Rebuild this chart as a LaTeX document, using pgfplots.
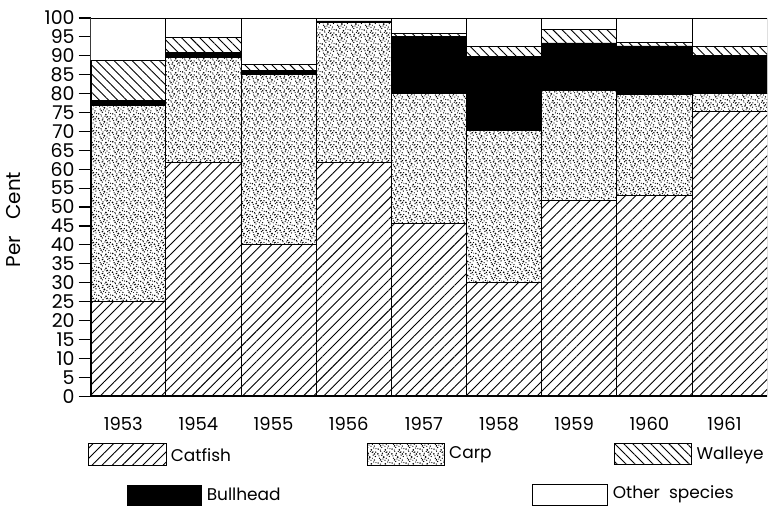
\documentclass[border=0pt]{standalone}
\usepackage{fontspec}
\setmainfont{Poppins}
\usepackage{pgfplots}
\pgfplotsset{compat=1.18}
\usetikzlibrary{patterns,patterns.meta}
\pgfdeclarepatternformonly{stipple}{\pgfqpoint{-1pt}{-1pt}}{\pgfqpoint{8pt}{8pt}}{\pgfqpoint{7pt}{7pt}}{%
  \pgfpathcircle{\pgfqpoint{0.5pt}{0.7pt}}{0.4pt}
  \pgfpathcircle{\pgfqpoint{2.3pt}{1.5pt}}{0.35pt}
  \pgfpathcircle{\pgfqpoint{4.1pt}{0.3pt}}{0.45pt}
  \pgfpathcircle{\pgfqpoint{5.6pt}{2.2pt}}{0.35pt}
  \pgfpathcircle{\pgfqpoint{1.2pt}{3.1pt}}{0.35pt}
  \pgfpathcircle{\pgfqpoint{3.3pt}{3.7pt}}{0.5pt}
  \pgfpathcircle{\pgfqpoint{5.0pt}{4.7pt}}{0.35pt}
  \pgfpathcircle{\pgfqpoint{0.4pt}{5.3pt}}{0.45pt}
  \pgfpathcircle{\pgfqpoint{2.6pt}{5.6pt}}{0.35pt}
  \pgfpathcircle{\pgfqpoint{3.9pt}{2.1pt}}{0.3pt}
  \pgfpathcircle{\pgfqpoint{6.3pt}{6.2pt}}{0.35pt}
  \pgfpathcircle{\pgfqpoint{6.4pt}{0.9pt}}{0.3pt}
  \pgfpathcircle{\pgfqpoint{1.8pt}{6.6pt}}{0.3pt}
  \pgfpathcircle{\pgfqpoint{2.9pt}{2.7pt}}{0.3pt}
  \pgfpathcircle{\pgfqpoint{4.6pt}{3.1pt}}{0.3pt}
  \pgfpathcircle{\pgfqpoint{0.9pt}{4.3pt}}{0.3pt}
  \pgfpathcircle{\pgfqpoint{6.1pt}{4.0pt}}{0.35pt}
  \pgfpathcircle{\pgfqpoint{3.6pt}{6.5pt}}{0.3pt}
  \pgfpathcircle{\pgfqpoint{5.3pt}{1.2pt}}{0.3pt}
  \pgfpathcircle{\pgfqpoint{1.6pt}{0.2pt}}{0.3pt}
  \pgfusepath{fill}
  \pgfpathmoveto{\pgfqpoint{4.3pt}{5.9pt}}\pgfpathlineto{\pgfqpoint{5.1pt}{6.4pt}}
  \pgfpathmoveto{\pgfqpoint{1.5pt}{2.0pt}}\pgfpathlineto{\pgfqpoint{1.9pt}{2.6pt}}
  \pgfpathmoveto{\pgfqpoint{5.5pt}{5.5pt}}\pgfpathlineto{\pgfqpoint{5.9pt}{5.0pt}}
  \pgfpathmoveto{\pgfqpoint{2.0pt}{4.5pt}}\pgfpathlineto{\pgfqpoint{2.7pt}{4.8pt}}
  \pgfsetlinewidth{0.5pt}
  \pgfusepath{stroke}
}
\pgfplotstableread{
x cat carp bull wall other
0 25.0 51.8 1.3 10.6 11.3
1 61.7 27.9 1.3 3.9 5.2
2 40.0 45.0 1.1 1.6 12.3
3 61.8 37.1 0.3 0.0 0.8
4 45.6 34.4 15.0 0.8 4.2
5 30.0 40.3 19.5 2.7 7.5
6 51.8 29.1 12.5 3.5 3.1
7 53.2 26.6 12.8 0.9 6.5
8 75.2 4.8 10.0 2.4 7.6
}\datatable
\tikzset{
  catpat/.style={pattern={Lines[angle=45,distance=3.6pt,line width=0.45pt]}},
  carppat/.style={pattern=stipple},
  wallpat/.style={pattern={Lines[angle=-45,distance=3.2pt,line width=0.45pt]}},
}
\begin{document}
\begin{tikzpicture}
\begin{scope}[shift={(-45pt,198.5pt)},x=0.5pt,y=-0.5pt]
\path[use as bounding box] (0,0) rectangle (768,506);
\end{scope}
\begin{axis}[
  scale only axis,
  width=339pt, height=189.5pt,
  ybar stacked, bar width=1,
  xmin=-0.5, xmax=8.5, ymin=0, ymax=100,
  axis x line*=bottom, axis y line*=left,
  axis line style={-, line width=0.9pt},
  xtick={0,...,8},
  xticklabels={1953,1954,1955,1956,1957,1958,1959,1960,1961},
  x tick style={draw=none},
  xticklabel style={font=\fontsize{9}{10}\selectfont, xshift=-2.5pt, yshift=-1pt},
  ytick={0,5,...,100},
  y tick style={line width=0.6pt,black},
  tick align=outside, major tick length=6pt,
  yticklabel style={font=\fontsize{9.5}{10}\selectfont, xshift=1.5pt},
  /pgf/number format/assume math mode=true,
  ylabel={Per\ \ \ Cent},
  ylabel style={at={(axis description cs:-0.1136,0.467)}, anchor=center, font=\fontsize{10}{11}\selectfont},
  every axis plot/.append style={draw=black, line width=0.4pt},
]
\addplot[catpat, draw=black] table[x=x,y=cat]{\datatable};
\addplot[carppat, draw=black] table[x=x,y=carp]{\datatable};
\addplot[fill=black, draw=black] table[x=x,y=bull]{\datatable};
\addplot[wallpat, draw=black] table[x=x,y=wall]{\datatable};
\addplot[fill=white, draw=black] table[x=x,y=other]{\datatable};
\end{axis}
\begin{scope}[shift={(-45pt,198.5pt)},x=0.5pt,y=-0.5pt, every node/.style={font=\fontsize{8.5}{9}\selectfont, anchor=west, inner sep=0pt}]
\draw[catpat, line width=0.5pt] (88,445) rectangle (166,467);
\node at (170,456) {Catfish};
\draw[carppat, line width=0.5pt] (367,445) rectangle (445,467);
\node at (449,456) {Carp};
\draw[wallpat, line width=0.5pt] (615,445) rectangle (692,466);
\node at (697,456) {Walleye};
\fill[black] (126,486) rectangle (202,507);
\node at (206,495) {Bullhead};
\draw[line width=0.5pt] (533,486) rectangle (608,507);
\node at (613,495) {Other\ \ species};
\end{scope}
\end{tikzpicture}
\end{document}
